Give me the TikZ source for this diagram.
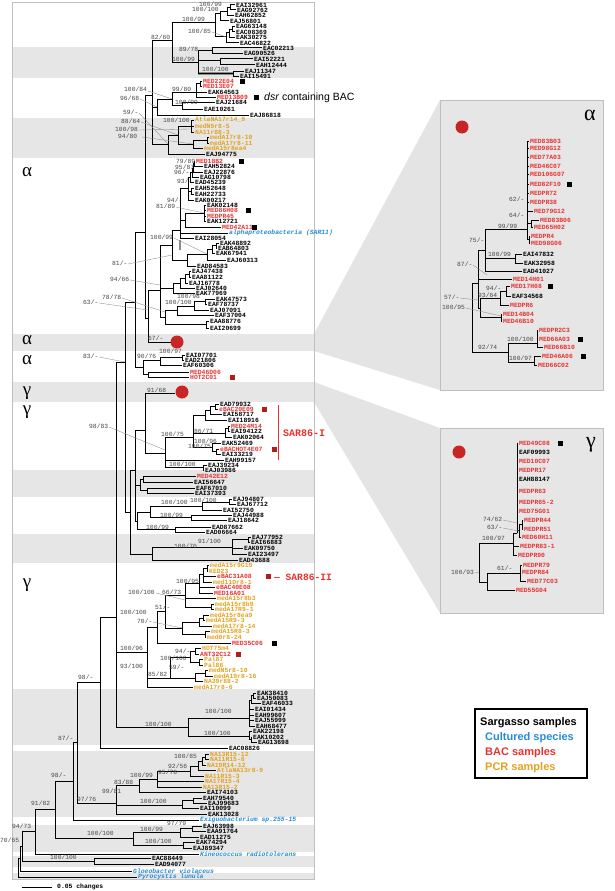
\documentclass[tikz,border=0pt]{standalone}
\usepackage{fontspec}
\setmainfont{Liberation Serif}
\setsansfont{Liberation Sans}
\setmonofont{Liberation Mono}
\definecolor{tred}{RGB}{232,50,50}
\definecolor{torange}{RGB}{226,162,32}
\definecolor{tblue}{RGB}{38,140,212}
\definecolor{sqred}{RGB}{178,30,30}
\definecolor{dotred}{RGB}{200,38,38}
\definecolor{bandc}{RGB}{230,230,230}
\definecolor{wedgec}{RGB}{228,228,228}
\newcommand\tipx[6]{\draw[br] (#2,#3) |- (#4-1,#5); \node[tp,text=#1] at (#4,#5) {#6};}
\newcommand\brx[4]{\draw[br] (#1,#2) |- (#3,#4);}
\newcommand\bsx[3]{\node[bs] at (#1,#2) {#3};}
\newcommand\ldx[4]{\draw[ld] (#1,#2) -- (#3,#4);}
\newcommand\sqx[3]{\fill[#1] (#2,#3-2.5) rectangle (#2+4.5,#3+2.5);}
\begin{document}
\begin{tikzpicture}[x=1pt,y=-1pt,
  br/.style={line width=1pt,black},
  ld/.style={line width=0.35pt,black!45},
  tp/.style={anchor=west,inner sep=0pt,font=\ttfamily\bfseries\fontsize{6.4}{7}\selectfont},
  bs/.style={anchor=west,inner sep=0pt,text=black!72,font=\ttfamily\fontsize{6.3}{7}\selectfont},
  greek/.style={inner sep=0pt,font=\fontsize{19}{20}\selectfont}]
\useasboundingbox (0,0) rectangle (614,891);
\fill[white] (0,0) rectangle (614,891);
% wedges and panels
\fill[wedgec] (314,334) -- (440,100) -- (440,390) -- (314,351) -- cycle;
\fill[wedgec] (314,382) -- (440,428) -- (440,613) -- (314,402) -- cycle;
\filldraw[fill=bandc,draw=black!25] (440,100) rectangle (603,390);
\filldraw[fill=bandc,draw=black!25] (440,428) rectangle (603,613);
% main panel bands
\fill[white] (12,2) rectangle (314,879);
\foreach \ya/\yb in {47/78,118/158,334/351,382/402,470/497,534/563,689/745,751/817,825/852,856/867,873/879}
  {\fill[bandc] (12,\ya) rectangle (314,\yb);}
\draw[black!25] (12,2) rectangle (314,879);
% greek labels
\node[greek] at (27,172) {α};
\node[greek] at (27,340.5) {α};
\node[greek] at (27,360) {α};
\node[greek] at (27,393) {γ};
\node[greek] at (27,412) {γ};
\node[greek] at (27,585) {γ};
\node[greek,font=\fontsize{22}{24}\selectfont] at (590,115) {α};
\node[greek,font=\fontsize{22}{24}\selectfont] at (591,445) {γ};
% ---------- top alpha ----------
\tipx{black}{230}{7.5}{236}{5}{EAI32961}
\tipx{black}{230}{7.5}{237}{10}{EAG92762}
\brx{227}{12}{230}{7.5}
\tipx{black}{227}{12}{235}{15.5}{EAH62852}
\brx{220}{14}{227}{12}
\tipx{black}{220}{14}{230}{21}{EAJ56801}
\tipx{black}{232}{29.5}{236}{26.5}{EAG63148}
\tipx{black}{232}{29.5}{236}{32}{EAC08369}
\brx{229}{33}{232}{29.5}
\tipx{black}{229}{33}{236}{37.5}{EAK30275}
\brx{226}{37}{229}{33}
\tipx{black}{226}{37}{240}{43}{EAC46822}
\brx{215}{23}{220}{14}
\brx{215}{23}{226}{37}
\tipx{black}{212}{51}{263}{48}{EAC02213}
\tipx{black}{212}{51}{244}{53.5}{EAG90526}
\tipx{black}{220}{61}{254}{59}{EAI52221}
\tipx{black}{220}{61}{256}{65}{EAH12444}
\tipx{black}{233}{73.5}{245}{71}{EAJ11347}
\tipx{black}{233}{73.5}{240}{76.5}{EAI15491}
\brx{198}{63}{212}{51}
\brx{198}{63}{220}{61}
\draw[line width=2.2pt,black!45] (198,73.5) -- (233,73.5);
\brx{198}{63}{233}{73.5}
\brx{172}{41}{215}{23}
\brx{172}{41}{198}{63}
\tipx{tred}{200}{83.5}{203}{81}{MED22E04}
\tipx{tred}{200}{83.5}{203}{86.5}{MED13E07}
\brx{196}{92}{200}{83.5}
\tipx{black}{196}{92}{208}{92}{EAK64563}
\tipx{tred}{196}{92}{217}{97.5}{MED13B09}
\tipx{black}{182}{105.5}{216}{102.5}{EAJ21684}
\tipx{black}{182}{105.5}{204}{109}{EAE10261}
\brx{172}{99}{196}{92}
\brx{172}{99}{182}{105.5}
\brx{157}{107}{172}{99}
\tipx{black}{157}{107}{250}{115}{EAJ86818}
\tipx{torange}{191}{126}{195}{120}{AtlaNA17r14\_9}
\tipx{torange}{191}{126}{195}{126}{medN5r8-5}
\tipx{torange}{191}{126}{195}{132}{NA11r88-3}
\tipx{torange}{207}{140.5}{210}{137.5}{medA17r8-10}
\tipx{torange}{207}{140.5}{210}{143}{medA17r8-11}
\brx{193}{144}{207}{140.5}
\tipx{torange}{193}{144}{204}{148.5}{medA15r8ea4}
\brx{178}{135}{191}{126}
\brx{178}{135}{193}{144}
\brx{168}{144}{178}{135}
\tipx{black}{168}{144}{206}{154}{EAJ94775}
\brx{152}{95}{172}{41}
\brx{152}{95}{157}{107}
\brx{152}{95}{168}{144}
% ---------- alpha 2 ----------
\tipx{tred}{194}{163}{196}{161}{MED18B2}
\tipx{black}{194}{163}{204}{166.5}{EAH52824}
\brx{193}{168}{194}{163}
\tipx{black}{193}{168}{204}{172}{EAJ22876}
\brx{192}{172}{193}{168}
\tipx{black}{192}{172}{200}{177}{EAG10798}
\brx{190}{177}{192}{172}
\tipx{black}{190}{177}{195}{182.5}{EAD45239}
\tipx{black}{191}{191}{195}{188}{EAH52648}
\tipx{black}{191}{191}{195}{194}{EAH22733}
\brx{188}{188}{190}{177}
\brx{188}{188}{191}{191}
\tipx{black}{188}{188}{195}{200}{EAK00217}
\tipx{black}{204}{213}{207}{205}{EAK02148}
\tipx{tred}{204}{213}{207}{210.5}{MED86H08}
\tipx{tred}{204}{213}{207}{216}{MEDPR45}
\tipx{black}{204}{213}{207}{221.5}{EAK12721}
\brx{185}{220}{204}{213}
\tipx{tred}{185}{220}{222}{227}{MED42A11}
\brx{180}{230}{188}{188}
\brx{180}{230}{185}{220}
\tipx{tblue}{180}{230}{229}{233}{\itshape alphaproteobacteria (SAR11)}
\tipx{black}{180}{230}{195}{238.5}{EAI28054}
\tipx{black}{216}{245.5}{220}{243}{EAK48892}
\tipx{black}{216}{245.5}{218}{248}{EAB64803}
\brx{212}{249}{216}{245.5}
\tipx{black}{212}{249}{216}{253}{EAK67941}
\brx{207}{254}{212}{249}
\tipx{black}{207}{254}{227}{260}{EAJ60313}
\brx{187}{260}{207}{254}
\tipx{black}{187}{260}{197}{266}{EAD84583}
\draw[line width=2.2pt,black!45] (180,240) -- (180,250);
\brx{172}{245}{180}{230}
\brx{172}{245}{187}{260}
\tipx{black}{189}{274}{192}{271}{EAJ47438}
\tipx{black}{189}{274}{192}{277}{EAA81122}
\brx{185}{278}{189}{274}
\tipx{black}{185}{278}{189}{283}{EAJ16778}
\brx{180}{283}{185}{278}
\tipx{black}{180}{283}{196}{288}{EAJ02640}
\brx{173}{288}{180}{283}
\tipx{black}{173}{288}{196}{293}{EAK77969}
\tipx{black}{205}{301.5}{216}{299}{EAK47573}
\tipx{black}{205}{301.5}{208}{304.5}{EAF78737}
\brx{194}{306}{205}{301.5}
\tipx{black}{194}{306}{210}{310}{EAJ07091}
\brx{177}{310}{194}{306}
\tipx{black}{177}{310}{215}{315}{EAF37004}
\tipx{black}{206}{324.5}{210}{321}{EAA88776}
\tipx{black}{206}{324.5}{210}{328}{EAI20699}
\brx{165}{317}{177}{310}
\brx{165}{317}{206}{324.5}
\brx{160}{290}{172}{245}
\brx{160}{290}{173}{288}
\brx{160}{290}{165}{317}
\brx{148}{318}{160}{290}
\draw[br] (148,318) |- (171,342);
\fill[dotred] (177,342) circle (6.5pt);
\brx{145}{232}{152}{95}
\brx{145}{232}{148}{318}
\tipx{black}{182}{357.5}{186}{355}{EAI07701}
\tipx{black}{182}{357.5}{185}{360}{EAD21806}
\brx{160}{360}{182}{357.5}
\tipx{black}{160}{360}{183}{365}{EAF60306}
\tipx{tred}{148}{374.5}{190}{372}{MED46D06}
\tipx{tred}{148}{374.5}{190}{377.5}{HOT2C01}
\brx{143}{367}{160}{360}
\brx{143}{367}{148}{374.5}
\brx{135}{302}{145}{232}
\brx{135}{302}{143}{367}
% ---------- gamma ----------
\draw[br] (145,430) |- (175,393);
\fill[dotred] (182,392) circle (6.5pt);
\tipx{black}{215}{406.5}{220}{404}{EAD79932}
\tipx{tred}{215}{406.5}{219}{409}{eBAC20E09}
\brx{210}{410}{215}{406.5}
\tipx{black}{210}{410}{223}{414.5}{EAI58717}
\brx{205}{415}{210}{410}
\tipx{black}{205}{415}{228}{420}{EAI18916}
\tipx{tred}{228}{428.5}{231}{426}{MED24M14}
\tipx{black}{228}{428.5}{231}{431.5}{EAI94122}
\brx{225}{433}{228}{428.5}
\tipx{black}{225}{433}{233}{437}{EAK02064}
\tipx{tred}{216}{451.5}{220}{449}{eBACHOT4E07}
\tipx{black}{216}{451.5}{222}{454.5}{EAI33219}
\tipx{black}{212}{447}{222}{443}{EAK52469}
\brx{212}{447}{216}{451.5}
\brx{193}{437}{205}{415}
\brx{193}{437}{225}{433}
\brx{193}{437}{212}{447}
\tipx{black}{203}{467.5}{208}{465}{EAJ39234}
\tipx{black}{203}{467.5}{205}{470.5}{EAJ03986}
\brx{165}{453}{193}{437}
\brx{165}{453}{203}{467.5}
\tipx{black}{165}{453}{225}{460}{EAH99157}
\brx{145}{430}{165}{453}
\tipx{tred}{143}{479}{197}{476}{MED42E12}
\tipx{black}{143}{479}{194}{482}{EAI56647}
\tipx{black}{147}{490.5}{196}{488}{EAF67010}
\tipx{black}{147}{490.5}{195}{493.5}{EAI37393}
\brx{140}{485}{143}{479}
\brx{140}{485}{147}{490.5}
\tipx{black}{229}{502}{233}{499}{EAJ94807}
\tipx{black}{229}{502}{237}{504.5}{EAJ67712}
\brx{202}{506}{229}{502}
\tipx{black}{202}{506}{223}{510}{EAI52750}
\tipx{black}{191}{517.5}{233}{515}{EAJ44988}
\tipx{black}{191}{517.5}{228}{520.5}{EAJ18642}
\brx{150}{512}{202}{506}
\brx{150}{512}{191}{517.5}
\tipx{black}{175}{529.5}{212}{527}{EAD87662}
\tipx{black}{175}{529.5}{206}{532.5}{EAD06664}
\brx{137}{521}{150}{512}
\brx{137}{521}{175}{529.5}
\brx{135}{470}{145}{430}
\brx{135}{470}{140}{485}
\brx{135}{470}{137}{521}
\tipx{black}{248}{539.5}{252}{537}{EAJ77952}
\tipx{black}{248}{539.5}{251}{542.5}{EAI66883}
\brx{232}{547}{248}{539.5}
\tipx{black}{232}{547}{244}{548.5}{EAK09750}
\tipx{black}{232}{547}{248}{554.5}{EAI23497}
\brx{152}{554}{232}{547}
\tipx{black}{152}{554}{239}{560}{EAD43688}
\brx{130}{512}{135}{470}
\brx{130}{512}{152}{554}
\brx{125}{362}{135}{302}
\brx{125}{362}{130}{512}
% SAR86-II region
\tipx{torange}{207}{568}{210}{565}{medA15r9G10}
\tipx{torange}{207}{568}{209}{571}{KED23}
\brx{203}{574}{207}{568}
\tipx{tred}{203}{574}{217}{576.5}{eBAC31A08}
\tipx{torange}{203}{574}{213}{582}{med11Dr8-1}
\brx{199}{583}{203}{574}
\tipx{tred}{199}{583}{216}{587.5}{eBAC40E08}
\tipx{tred}{199}{583}{214}{593}{MED16A01}
\tipx{torange}{211}{607}{215}{604}{medA15r8b9}
\tipx{torange}{211}{607}{215}{609.5}{medA17R9-1}
\brx{185}{595}{199}{583}
\brx{185}{595}{211}{607}
\tipx{torange}{185}{595}{217}{598.5}{medA15r8b3}
\tipx{torange}{203}{618}{210}{615}{medA15r8ea9}
\tipx{torange}{203}{618}{206}{620.5}{medA15R9-3}
\brx{199}{622}{203}{618}
\tipx{torange}{199}{622}{213}{626}{medA17r8-14}
\tipx{torange}{205}{634.5}{211}{631.5}{medA15R8-3}
\tipx{torange}{205}{634.5}{207}{637}{med0r8-24}
\brx{182}{628}{199}{622}
\brx{182}{628}{205}{634.5}
\brx{165}{611}{185}{595}
\brx{165}{611}{182}{628}
\brx{157}{627}{165}{611}
\tipx{tred}{157}{627}{232}{643}{MED35C06}
\tipx{torange}{195}{651}{202}{648}{HOT75m4}
\tipx{tred}{195}{651}{200}{654}{ANT32C12}
\tipx{torange}{199}{662.5}{204}{659.5}{Pal87}
\tipx{torange}{199}{662.5}{204}{665}{Pal86}
\brx{190}{657}{195}{651}
\brx{190}{657}{199}{662.5}
\tipx{torange}{205}{673.5}{209}{670.5}{medN5r8-10}
\tipx{torange}{205}{673.5}{214}{676}{medA19r8-16}
\brx{195}{678}{205}{673.5}
\tipx{torange}{195}{678}{204}{681.5}{NA39r88-2}
\brx{170}{678}{190}{657}
\brx{170}{678}{195}{678}
\brx{147}{652}{157}{627}
\brx{147}{652}{170}{678}
\tipx{torange}{147}{652}{194}{687}{medA17r8-6}
% EAK38410 group
\tipx{black}{253}{695.5}{257}{693}{EAK38410}
\tipx{black}{253}{695.5}{257}{698}{EAJ50083}
\brx{251}{700}{253}{695.5}
\tipx{black}{251}{700}{262}{703}{EAF46033}
\brx{249}{718}{251}{700}
\tipx{black}{249}{718}{255}{709}{EAI01434}
\tipx{black}{249}{718}{255}{715}{EAH99607}
\tipx{black}{249}{718}{255}{720.5}{EAJ55999}
\tipx{black}{249}{718}{256}{726}{EAH68477}
\tipx{black}{251}{739.5}{253}{737}{EAK10202}
\tipx{black}{251}{739.5}{258}{742.5}{EAG13698}
\tipx{black}{249}{736}{253}{731.5}{EAK22198}
\brx{249}{736}{251}{739.5}
\brx{188}{727}{249}{718}
\brx{188}{727}{249}{736}
\brx{116}{617}{125}{362}
\brx{116}{617}{147}{652}
\brx{116}{617}{188}{727}
\brx{100}{682}{116}{617}
\tipx{black}{100}{682}{229}{748}{EAC08826}
% firmicutes and basal
\tipx{torange}{205}{757}{210}{754}{NA13R15-12}
\tipx{torange}{205}{757}{210}{759.5}{NA11R15-8}
\brx{202}{761}{205}{757}
\tipx{torange}{202}{761}{207}{765}{NA19R14-12}
\brx{198}{766}{202}{761}
\tipx{torange}{198}{766}{217}{770.5}{AtlaNA13r8-9}
\brx{190}{771}{198}{766}
\tipx{torange}{190}{771}{205}{776}{NA11R15-3}
\brx{157}{779}{190}{771}
\tipx{torange}{157}{779}{205}{781.5}{NA17R15-4}
\tipx{torange}{157}{779}{203}{787}{NA13R15-2}
\brx{139}{785}{157}{779}
\tipx{black}{139}{785}{207}{792.5}{EAI74103}
\tipx{black}{193}{800.5}{203}{798}{EAH79540}
\tipx{black}{193}{800.5}{208}{803}{EAJ99683}
\brx{182}{805}{193}{800.5}
\tipx{black}{182}{805}{200}{808.5}{EAI10099}
\brx{116}{803}{139}{785}
\brx{116}{803}{182}{805}
\tipx{black}{116}{803}{208}{814}{EAK13028}
\brx{77}{742}{100}{682}
\brx{77}{742}{116}{803}
\brx{73}{781}{77}{742}
\tipx{tblue}{73}{781}{200}{820}{\itshape Exiguobacterium sp.255-15}
\tipx{black}{192}{828.5}{203}{826}{EAJ63998}
\tipx{black}{192}{828.5}{207}{831.5}{EAA91764}
\brx{180}{832}{192}{828.5}
\tipx{black}{180}{832}{200}{837}{EAD11275}
\tipx{black}{183}{845}{196}{842.5}{EAK74294}
\tipx{black}{183}{845}{193}{848}{EAJ89347}
\brx{133}{838}{180}{832}
\brx{133}{838}{183}{845}
\brx{55}{809}{73}{781}
\brx{55}{809}{133}{838}
\brx{35}{831}{55}{809}
\tipx{tblue}{35}{831}{200}{854}{\itshape Kineococcus radiotolerans}
\tipx{black}{94}{861}{152}{858}{EAC88449}
\tipx{black}{94}{861}{155}{864}{EAD94077}
\brx{22}{846}{35}{831}
\brx{22}{846}{94}{861}
\brx{20}{858}{22}{846}
\tipx{tblue}{20}{858}{133}{871}{\itshape Gloeobacter violaceus}
\brx{18}{867}{20}{858}
\tipx{tblue}{18}{867}{138}{877}{\itshape Pyrocystis lunula}
% squares main
\sqx{black}{240}{81}
\sqx{black}{254}{97.5}
\sqx{black}{239}{161}
\sqx{black}{246}{210.5}
\sqx{black}{252}{227}
\sqx{black}{272}{643}
\sqx{sqred}{230}{377.5}
\sqx{sqred}{262}{409}
\sqx{sqred}{272}{449}
\sqx{sqred}{266}{576.5}
\sqx{sqred}{236}{654}
% bootstrap labels main
\bsx{199}{4}{100/99}
\bsx{192}{9}{100/100}
\bsx{182}{19}{100/99}
\bsx{188}{31}{100/85}
\bsx{151}{37}{82/60}
\bsx{179}{49}{89/78}
\bsx{172}{59}{100/99}
\bsx{202}{69}{100/100}
\bsx{124}{89}{100/84}
\bsx{172}{89}{99/80}
\bsx{120}{98}{96/68}
\bsx{175}{102}{100/99}
\bsx{123}{112}{59/-}
\bsx{121}{121}{88/64}
\bsx{163}{120}{100/100}
\bsx{115}{129}{100/98}
\bsx{118}{136}{94/80}
\bsx{176}{161}{79/89}
\bsx{175}{167}{95/87}
\bsx{174}{172}{96/-}
\bsx{177}{181}{93/-}
\bsx{167}{200}{94/-}
\bsx{156}{206}{81/89}
\bsx{150}{237}{100/99}
\bsx{112}{263}{81/-}
\bsx{110}{279}{94/66}
\bsx{102}{297}{78/78}
\bsx{83}{302}{63/-}
\bsx{177}{296}{100/98}
\bsx{165}{302}{100/100}
\bsx{148}{338}{67/-}
\bsx{159}{351}{100/97}
\bsx{137}{356}{90/76}
\bsx{83}{356}{83/-}
\bsx{147}{390}{91/68}
\bsx{89}{426}{98/83}
\bsx{194}{431}{86/71}
\bsx{161}{434}{100/75}
\bsx{194}{441}{100/96}
\bsx{188}{446}{100/75}
\bsx{169}{464}{100/100}
\bsx{190}{500}{100/100}
\bsx{161}{502.5}{100/100}
\bsx{160}{515}{100/99}
\bsx{146}{527}{100/99}
\bsx{198}{541}{91/100}
\bsx{174}{546}{100/70}
\bsx{176}{581}{100/95}
\bsx{162}{592}{66/73}
\bsx{128}{592}{100/100}
\bsx{155}{607}{51/-}
\bsx{120}{612}{100/100}
\bsx{137}{621}{70/-}
\bsx{120}{648}{100/96}
\bsx{175}{651}{94/-}
\bsx{160}{658}{100/100}
\bsx{120}{666}{93/100}
\bsx{169}{667}{59/-}
\bsx{148}{674}{85/82}
\bsx{78}{677}{98/-}
\bsx{205}{711}{100/100}
\bsx{145}{724}{100/100}
\bsx{204}{733}{100/100}
\bsx{58}{738}{87/-}
\bsx{174}{756}{100/85}
\bsx{168}{766}{92/56}
\bsx{158}{772}{95/78}
\bsx{130}{775}{100/99}
\bsx{114}{782}{83/88}
\bsx{102}{791}{99/81}
\bsx{77}{799}{97/76}
\bsx{140}{801}{100/100}
\bsx{51}{775}{98/-}
\bsx{31}{803}{91/82}
\bsx{167}{823}{97/79}
\bsx{140}{829}{100/99}
\bsx{87}{833}{100/100}
\bsx{145}{841}{100/100}
\bsx{12}{826}{94/73}
\bsx{0}{840}{70/65}
\bsx{50}{857}{100/100}
% leaders main
\ldx{212}{32}{226}{37}
\ldx{148}{91}{172}{99}
\ldx{140}{99}{157}{107}
\ldx{139}{113}{168}{144}
\ldx{141}{122}{178}{135}
\ldx{139}{130}{191}{129}
\ldx{142}{137}{193}{144}
\ldx{176}{207}{204}{213}
\ldx{174}{238}{207}{254}
\ldx{128}{264}{172}{255}
\ldx{130}{280}{160}{285}
\ldx{122}{298}{165}{312}
\ldx{99}{303}{148}{310}
\ldx{99}{357}{125}{362}
\ldx{109}{427}{165}{450}
\ldx{156}{593}{185}{600}
\ldx{153}{622}{182}{628}
% dsr and SAR86 annotations
\node[anchor=west,inner sep=0pt,font=\sffamily\fontsize{10.5}{12}\selectfont] at (264,97.5) {\textit{dsr} containing BAC};
\draw[tred,line width=1pt] (278,405) -- (278,460);
\node[anchor=west,inner sep=0pt,text=tred,font=\ttfamily\bfseries\fontsize{10}{11}\selectfont] at (283,433) {SAR86-I};
\node[anchor=west,inner sep=0pt,text=tred,font=\ttfamily\bfseries\fontsize{9.6}{11}\selectfont] at (274,577) {— SAR86-II};
% scale bar
\draw[line width=1pt] (22,887) -- (52,887);
\node[tp] at (57,887) {0.05 changes};
% ---------- alpha panel ----------
\fill[dotred] (462,127) circle (6.5pt);
\tipx{tred}{527}{229}{530}{141}{MED83B03}
\tipx{tred}{527}{229}{530}{148}{MED98G12}
\tipx{tred}{527}{229}{530}{157}{MED77A03}
\tipx{tred}{527}{229}{530}{166}{MED46C07}
\tipx{tred}{527}{229}{530}{174}{MED106G07}
\tipx{tred}{527}{229}{530}{184}{MED82F10}
\tipx{tred}{527}{229}{530}{193}{MEDPR72}
\tipx{tred}{527}{229}{530}{202}{MEDPR38}
\tipx{tred}{527}{229}{534}{211}{MED79G12}
\tipx{tred}{531}{223.5}{540}{220}{MED83B06}
\tipx{tred}{531}{223.5}{534}{227}{MED65H02}
\brx{527}{229}{531}{223.5}
\tipx{tred}{529}{239.5}{531}{236}{MEDPR4}
\tipx{tred}{529}{239.5}{531}{243}{MED98G06}
\brx{527}{229}{529}{239.5}
\tipx{black}{515}{258.5}{523}{254}{EAI47832}
\tipx{black}{515}{258.5}{524}{263}{EAK32958}
\brx{485}{250}{527}{229}
\brx{485}{250}{515}{258.5}
\tipx{black}{485}{250}{523}{271}{EAD41027}
\brx{478}{283}{485}{250}
\tipx{tred}{478}{283}{513}{279}{MED14H01}
\tipx{tred}{506}{291}{511}{286}{MED17H08}
\tipx{black}{506}{291}{512}{296}{EAF34568}
\brx{500}{298}{506}{291}
\tipx{tred}{500}{298}{510}{305}{MEDPR6}
\tipx{tred}{501}{317.5}{503}{314}{MED14B04}
\tipx{tred}{501}{317.5}{503}{321}{MED46B10}
\brx{480}{308}{500}{298}
\brx{480}{308}{501}{317.5}
\brx{478}{283}{480}{308}
\tipx{tred}{537}{343}{539}{330}{MEDPR2C3}
\tipx{tred}{537}{343}{539}{339}{MED66A03}
\tipx{tred}{537}{343}{544}{347}{MED66B10}
\tipx{tred}{534}{362}{542}{356}{MED46A06}
\tipx{tred}{534}{362}{538}{365}{MED66C02}
\brx{508}{352}{537}{343}
\brx{508}{352}{534}{362}
\brx{472}{318}{478}{283}
\brx{472}{318}{508}{352}
\sqx{black}{567}{184}
\sqx{black}{548}{286}
\sqx{black}{578}{339}
\sqx{black}{581}{356}
\bsx{509}{199}{62/-}
\bsx{509}{215}{64/-}
\bsx{498}{226}{99/99}
\bsx{469}{240}{75/-}
\bsx{488}{254}{100/99}
\bsx{457}{264}{87/-}
\bsx{486}{288}{94/-}
\bsx{478}{295}{93/64}
\bsx{444}{297}{57/-}
\bsx{442}{307}{100/95}
\bsx{507}{339}{100/100}
\bsx{478}{347}{92/74}
\bsx{509}{358}{100/97}
\ldx{473}{265}{487}{275}
\ldx{460}{298}{478}{300}
\ldx{466}{308}{501}{316}
% ---------- gamma panel ----------
\fill[dotred] (459,452) circle (6.5pt);
\tipx{tred}{517}{533}{519}{443}{MED49C08}
\tipx{black}{517}{533}{519}{452}{EAF09993}
\tipx{tred}{517}{533}{519}{461}{MED10C07}
\tipx{tred}{517}{533}{519}{470}{MEDPR17}
\tipx{black}{517}{533}{519}{479}{EAH88147}
\tipx{tred}{517}{533}{519}{491}{MEDPR63}
\tipx{tred}{517}{533}{519}{502}{MEDPR65-2}
\tipx{tred}{517}{533}{519}{511}{MED75G01}
\tipx{tred}{522}{524.5}{524}{520}{MEDPR44}
\tipx{tred}{522}{524.5}{524}{529}{MEDPR51}
\brx{519}{530}{522}{524.5}
\tipx{tred}{519}{530}{522}{537}{MED60H11}
\brx{517}{533}{519}{530}
\brx{513}{543}{517}{533}
\tipx{tred}{513}{543}{520}{546}{MEDPR83-1}
\tipx{tred}{513}{543}{518}{555}{MEDPR90}
\tipx{tred}{520}{573}{523}{565}{MEDPR79}
\tipx{tred}{520}{573}{522}{572}{MEDPR84}
\tipx{tred}{520}{573}{527}{581}{MED77C03}
\brx{487}{582}{520}{573}
\tipx{tred}{487}{582}{516}{590}{MED55G04}
\brx{479}{562}{513}{543}
\brx{479}{562}{487}{582}
\sqx{black}{558}{443}
\bsx{483}{519}{74/62}
\bsx{487}{527}{63/-}
\bsx{482}{538}{100/97}
\bsx{497}{568}{61/-}
\bsx{451}{572}{100/93}
\ldx{503}{520}{517}{523}
\ldx{503}{528}{519}{531}
\ldx{475}{573}{479}{572}
% ---------- legend ----------
\draw[line width=2.5pt] (475,709) rectangle (587,778);
\node[anchor=west,inner sep=0pt,font=\sffamily\bfseries\fontsize{11}{12}\selectfont] at (480,723) {Sargasso samples};
\node[anchor=west,inner sep=0pt,text=tblue,font=\sffamily\bfseries\fontsize{11}{12}\selectfont] at (485,737.5) {Cultured species};
\node[anchor=west,inner sep=0pt,text=tred,font=\sffamily\bfseries\fontsize{11}{12}\selectfont] at (485,752.5) {BAC samples};
\node[anchor=west,inner sep=0pt,text=torange,font=\sffamily\bfseries\fontsize{11}{12}\selectfont] at (485,767.5) {PCR samples};
\end{tikzpicture}
\end{document}
